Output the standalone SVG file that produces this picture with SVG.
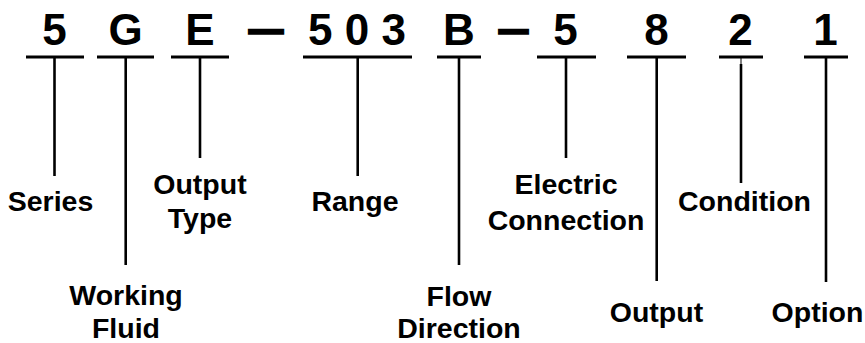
<svg xmlns="http://www.w3.org/2000/svg" width="865" height="343" viewBox="0 0 865 343">
<style>
text{font-family:"Liberation Sans",Arial,Helvetica,sans-serif;font-weight:bold;fill:#000;text-anchor:middle}
.code{font-size:44px}
.dash{font-size:44px;stroke:#000;stroke-width:1.6}
.lbl{font-size:28.5px}
.bar{stroke:#000;stroke-width:3.2;fill:none}
.conn{stroke:#000;stroke-width:2.6;fill:none}
</style>
<rect width="865" height="343" fill="#fff"/>
<g id="separators">
<text class="dash" x="266" y="44" textLength="35" lengthAdjust="spacingAndGlyphs">—</text>
<text class="dash" x="513.5" y="44" textLength="30" lengthAdjust="spacingAndGlyphs">—</text>
</g>
<g id="series"><text class="code" x="54.5" y="45">5</text><line class="bar" x1="26" y1="57" x2="84" y2="57"/><text class="lbl" x="50.5" y="211">Series</text></g>
<g id="working-fluid"><text class="code" x="125.5" y="45">G</text><line class="bar" x1="97" y1="57" x2="154" y2="57"/><text class="lbl" x="126" y="305">Working</text><text class="lbl" x="126" y="337.5">Fluid</text></g>
<g id="output-type"><text class="code" x="200" y="45">E</text><line class="bar" x1="171" y1="57" x2="229" y2="57"/><text class="lbl" x="200" y="194">Output</text><text class="lbl" x="200" y="228">Type</text></g>
<g id="range"><text class="code" x="357" y="45">5 0 3</text><line class="bar" x1="303" y1="57" x2="412" y2="57"/><text class="lbl" x="355" y="211">Range</text></g>
<g id="flow-direction"><text class="code" x="459" y="45">B</text><line class="bar" x1="437" y1="57" x2="481" y2="57"/><text class="lbl" x="459" y="306">Flow</text><text class="lbl" x="459" y="337.5">Direction</text></g>
<g id="electric-connection"><text class="code" x="565.5" y="45">5</text><line class="bar" x1="537" y1="57" x2="596" y2="57"/><text class="lbl" x="566" y="194">Electric</text><text class="lbl" x="566" y="230">Connection</text></g>
<g id="output"><text class="code" x="656.5" y="45">8</text><line class="bar" x1="627" y1="57" x2="686" y2="57"/><text class="lbl" x="656.5" y="322">Output</text></g>
<g id="condition"><text class="code" x="740.5" y="45">2</text><line class="bar" x1="719" y1="57" x2="763" y2="57"/><text class="lbl" x="744.5" y="211">Condition</text></g>
<g id="option"><text class="code" x="825.5" y="45">1</text><line class="bar" x1="804" y1="57" x2="848" y2="57"/><text class="lbl" x="817.5" y="322">Option</text></g>
<g id="connectors">
<line class="conn" x1="54.5" y1="57" x2="54.5" y2="176"/>
<line class="conn" x1="125.7" y1="57" x2="125.7" y2="265"/>
<line class="conn" x1="200" y1="57" x2="200" y2="158"/>
<line class="conn" x1="357.7" y1="57" x2="357.7" y2="176"/>
<line class="conn" x1="459" y1="57" x2="459" y2="265"/>
<line class="conn" x1="566" y1="57" x2="566" y2="158"/>
<line class="conn" x1="656.7" y1="57" x2="656.7" y2="281"/>
<line stroke="#000" stroke-width="1" x1="741" y1="57" x2="741" y2="64"/>
<line class="conn" x1="741" y1="64" x2="741" y2="183"/>
<line class="conn" x1="826" y1="57" x2="826" y2="282"/>
</g>
</svg>
